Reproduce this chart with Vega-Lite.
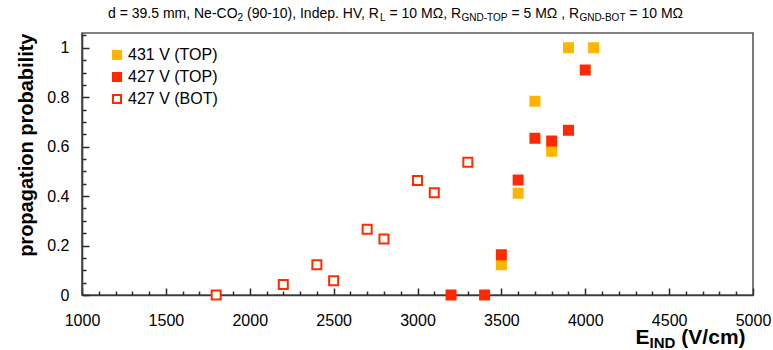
{
  "$schema": "https://vega.github.io/schema/vega-lite/v6.json",
  "width": 671,
  "height": 262,
  "autosize": {"type": "none"},
  "padding": {"left": 82, "top": 33, "right": 20, "bottom": 55},
  "background": "#ffffff",
  "config": {
    "font": "Liberation Sans",
    "view": {"stroke": "#5a5a5a", "strokeWidth": 1.6},
    "axis": {
      "grid": false,
      "domainColor": "#3a3a3a",
      "domainWidth": 1.6,
      "tickColor": "#2a2a2a",
      "tickWidth": 1.5,
      "labelFont": "Liberation Sans",
      "labelFontSize": 16,
      "labelColor": "#000000",
      "labelOverlap": false,
      "labelFlush": false,
      "titleFont": "Liberation Sans",
      "titleFontSize": 20,
      "titleFontWeight": "bold",
      "titleColor": "#000000"
    },
    "text": {"font": "Liberation Sans", "color": "#000000"}
  },
  "resolve": {"axis": {"x": "independent", "y": "independent"}},
  "layer": [
    {
      "data": {
        "values": [
          {"E_ind": 3500, "prob": 0.122, "series": "431 V (TOP)"},
          {"E_ind": 3600, "prob": 0.412, "series": "431 V (TOP)"},
          {"E_ind": 3700, "prob": 0.784, "series": "431 V (TOP)"},
          {"E_ind": 3800, "prob": 0.582, "series": "431 V (TOP)"},
          {"E_ind": 3900, "prob": 1.0, "series": "431 V (TOP)"},
          {"E_ind": 4050, "prob": 1.0, "series": "431 V (TOP)"},
          {"E_ind": 3200, "prob": 0.0, "series": "427 V (TOP)"},
          {"E_ind": 3400, "prob": 0.0, "series": "427 V (TOP)"},
          {"E_ind": 3500, "prob": 0.163, "series": "427 V (TOP)"},
          {"E_ind": 3600, "prob": 0.465, "series": "427 V (TOP)"},
          {"E_ind": 3700, "prob": 0.634, "series": "427 V (TOP)"},
          {"E_ind": 3800, "prob": 0.623, "series": "427 V (TOP)"},
          {"E_ind": 3900, "prob": 0.667, "series": "427 V (TOP)"},
          {"E_ind": 4000, "prob": 0.91, "series": "427 V (TOP)"},
          {"E_ind": 1800, "prob": 0.0, "series": "427 V (BOT)"},
          {"E_ind": 2200, "prob": 0.042, "series": "427 V (BOT)"},
          {"E_ind": 2400, "prob": 0.122, "series": "427 V (BOT)"},
          {"E_ind": 2500, "prob": 0.058, "series": "427 V (BOT)"},
          {"E_ind": 2700, "prob": 0.266, "series": "427 V (BOT)"},
          {"E_ind": 2800, "prob": 0.227, "series": "427 V (BOT)"},
          {"E_ind": 3000, "prob": 0.463, "series": "427 V (BOT)"},
          {"E_ind": 3100, "prob": 0.414, "series": "427 V (BOT)"},
          {"E_ind": 3300, "prob": 0.537, "series": "427 V (BOT)"}
        ]
      },
      "mark": {"type": "point", "shape": "square", "size": 81, "strokeWidth": 2, "opacity": 1},
      "encoding": {
        "x": {
          "field": "E_ind",
          "type": "quantitative",
          "scale": {"domain": [1000, 5000], "nice": false, "zero": false},
          "axis": {
            "title": null,
            "values": [1000,1100,1200,1300,1400,1500,1600,1700,1800,1900,2000,2100,2200,2300,2400,2500,2600,2700,2800,2900,3000,3100,3200,3300,3400,3500,3600,3700,3800,3900,4000,4100,4200,4300,4400,4500,4600,4700,4800,4900,5000],
            "format": "d",
            "labelExpr": "datum.value % 500 === 0 ? datum.label : ''",
            "labelFlush": false,
            "labelOverlap": false,
            "labelPadding": 24,
            "tickSize": {"condition": {"test": "datum.value % 500 === 0", "value": -7}, "value": -4}
          }
        },
        "y": {
          "field": "prob",
          "type": "quantitative",
          "scale": {"domain": [0, 1.06], "nice": false, "zero": false},
          "axis": {
            "title": "propagation probability",
            "titleAnchor": "end",
            "titlePadding": 10,
            "values": [0,0.05,0.1,0.15,0.2,0.25,0.3,0.35,0.4,0.45,0.5,0.55,0.6,0.65,0.7,0.75,0.8,0.85,0.9,0.95,1,1.05],
            "labelExpr": "round(datum.value * 100) % 20 === 0 ? format(datum.value, '~g') : ''",
            "labelFlush": false,
            "labelOverlap": false,
            "labelPadding": 20,
            "tickSize": {"condition": {"test": "round(datum.value * 100) % 20 === 0", "value": -7}, "value": -4}
          }
        },
        "fill": {
          "field": "series",
          "type": "nominal",
          "scale": {"domain": ["431 V (TOP)", "427 V (TOP)", "427 V (BOT)"], "range": ["#FFB400", "#FF2A00", "#FFFFFF"]},
          "legend": {"title": null, "orient": "none", "legendX": 27, "legendY": 14, "padding": 0, "symbolType": "square", "symbolSize": 64, "symbolStrokeWidth": 2, "labelFontSize": 16, "labelFont": "Liberation Sans", "labelColor": "#000000", "labelOffset": 3, "rowPadding": 6}
        },
        "stroke": {
          "field": "series",
          "type": "nominal",
          "scale": {"domain": ["431 V (TOP)", "427 V (TOP)", "427 V (BOT)"], "range": ["#FFB400", "#FF2A00", "#FF2A00"]},
          "legend": {"title": null, "orient": "none", "legendX": 27, "legendY": 14, "padding": 0, "symbolType": "square", "symbolSize": 64, "symbolStrokeWidth": 2, "labelFontSize": 16, "labelFont": "Liberation Sans", "labelColor": "#000000", "labelOffset": 3, "rowPadding": 6}
        }
      }
    },
    {
      "data": {"values": [{"piece": "d = 39.5 mm, Ne-CO"}]},
      "mark": {"type": "text", "align": "left", "baseline": "alphabetic", "fontSize": 14},
      "encoding": {"x": {"datum": 1155, "type": "quantitative", "axis": null}, "y": {"datum": 1.12, "type": "quantitative", "axis": null}, "text": {"field": "piece"}}
    },
    {
      "data": {"values": [{"piece": "2"}]},
      "mark": {"type": "text", "align": "left", "baseline": "alphabetic", "fontSize": 10},
      "encoding": {"x": {"datum": 1927, "type": "quantitative", "axis": null}, "y": {"datum": 1.108, "type": "quantitative", "axis": null}, "text": {"field": "piece"}}
    },
    {
      "data": {"values": [{"piece": "(90-10), Indep. HV, R"}]},
      "mark": {"type": "text", "align": "left", "baseline": "alphabetic", "fontSize": 14},
      "encoding": {"x": {"datum": 1984, "type": "quantitative", "axis": null}, "y": {"datum": 1.12, "type": "quantitative", "axis": null}, "text": {"field": "piece"}}
    },
    {
      "data": {"values": [{"piece": "L"}]},
      "mark": {"type": "text", "align": "left", "baseline": "alphabetic", "fontSize": 10},
      "encoding": {"x": {"datum": 2777, "type": "quantitative", "axis": null}, "y": {"datum": 1.108, "type": "quantitative", "axis": null}, "text": {"field": "piece"}}
    },
    {
      "data": {"values": [{"piece": "= 10 MΩ, R"}]},
      "mark": {"type": "text", "align": "left", "baseline": "alphabetic", "fontSize": 14},
      "encoding": {"x": {"datum": 2833, "type": "quantitative", "axis": null}, "y": {"datum": 1.12, "type": "quantitative", "axis": null}, "text": {"field": "piece"}}
    },
    {
      "data": {"values": [{"piece": "GND-TOP"}]},
      "mark": {"type": "text", "align": "left", "baseline": "alphabetic", "fontSize": 10},
      "encoding": {"x": {"datum": 3262, "type": "quantitative", "axis": null}, "y": {"datum": 1.108, "type": "quantitative", "axis": null}, "text": {"field": "piece"}}
    },
    {
      "data": {"values": [{"piece": "= 5 MΩ , R"}]},
      "mark": {"type": "text", "align": "left", "baseline": "alphabetic", "fontSize": 14},
      "encoding": {"x": {"datum": 3560, "type": "quantitative", "axis": null}, "y": {"datum": 1.12, "type": "quantitative", "axis": null}, "text": {"field": "piece"}}
    },
    {
      "data": {"values": [{"piece": "GND-BOT"}]},
      "mark": {"type": "text", "align": "left", "baseline": "alphabetic", "fontSize": 10},
      "encoding": {"x": {"datum": 3965, "type": "quantitative", "axis": null}, "y": {"datum": 1.108, "type": "quantitative", "axis": null}, "text": {"field": "piece"}}
    },
    {
      "data": {"values": [{"piece": "= 10 MΩ"}]},
      "mark": {"type": "text", "align": "left", "baseline": "alphabetic", "fontSize": 14},
      "encoding": {"x": {"datum": 4263, "type": "quantitative", "axis": null}, "y": {"datum": 1.12, "type": "quantitative", "axis": null}, "text": {"field": "piece"}}
    },
    {
      "data": {"values": [{"piece": "E"}]},
      "mark": {"type": "text", "align": "left", "baseline": "alphabetic", "fontSize": 21, "fontWeight": "bold"},
      "encoding": {"x": {"datum": 4300, "type": "quantitative", "axis": null}, "y": {"datum": -0.2, "type": "quantitative", "axis": null}, "text": {"field": "piece"}}
    },
    {
      "data": {"values": [{"piece": "IND"}]},
      "mark": {"type": "text", "align": "left", "baseline": "alphabetic", "fontSize": 15, "fontWeight": "bold"},
      "encoding": {"x": {"datum": 4383, "type": "quantitative", "axis": null}, "y": {"datum": -0.216, "type": "quantitative", "axis": null}, "text": {"field": "piece"}}
    },
    {
      "data": {"values": [{"piece": "(V/cm)"}]},
      "mark": {"type": "text", "align": "left", "baseline": "alphabetic", "fontSize": 21, "fontWeight": "bold"},
      "encoding": {"x": {"datum": 4573, "type": "quantitative", "axis": null}, "y": {"datum": -0.2, "type": "quantitative", "axis": null}, "text": {"field": "piece"}}
    }
  ]
}
